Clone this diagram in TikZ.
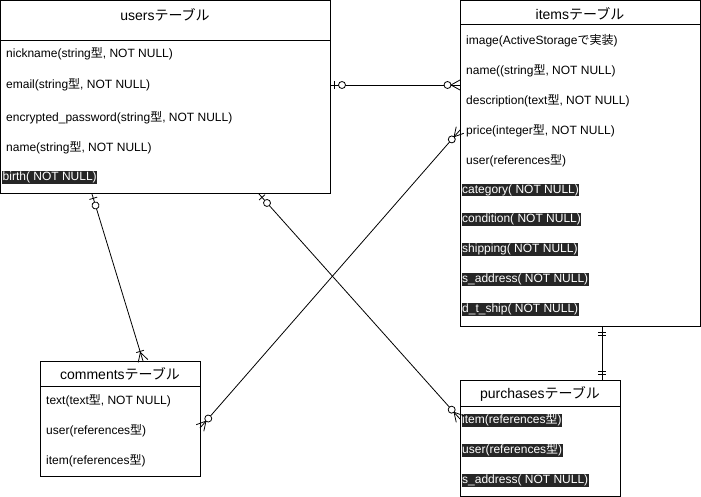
\documentclass[tikz,border=0pt]{standalone}
\usepackage{fontspec}
\setmainfont{Liberation Sans}
\newfontfamily\jpfont{Noto Sans CJK JP}
\usetikzlibrary{decorations.markings}
\newcommand{\jp}[1]{{\jpfont #1}}
\newcommand{\erzeroone}{\draw (-4.5pt,-4pt) -- (-4.5pt,4pt); \draw[fill=white] (-12pt,0) circle (3.5pt);}
\newcommand{\erzeromany}{\draw (0,-5pt) -- (-9pt,0) -- (0,5pt); \draw[fill=white] (-12.5pt,0) circle (3.5pt);}
\newcommand{\eronemany}{\draw (0,-5pt) -- (-9pt,0) -- (0,5pt); \draw (-10pt,-4pt) -- (-10pt,4pt);}
\newcommand{\eronlyone}{\draw (-6pt,-4pt) -- (-6pt,4pt); \draw (-9pt,-4pt) -- (-9pt,4pt);}
\tikzset{
  tbl/.style={draw, line width=1pt, anchor=north west, inner sep=0pt, outer sep=0pt},
  tbltitle/.style={inner sep=0pt, font=\fontsize{14}{16}\selectfont},
  rowtext/.style={anchor=west, inner sep=0pt, yshift=-1pt, font=\fontsize{12}{14}\selectfont},
  hlrow/.style={anchor=west, inner sep=0pt, font=\fontsize{12}{14}\selectfont, fill=black!85, text=white, inner xsep=0.5pt, text height=9.5pt, text depth=3pt},
  tipstart/.style={postaction={decorate,decoration={markings,mark=at position 0 with {\begin{scope}[xscale=-1]#1\end{scope}}}}},
  tipend/.style={postaction={decorate,decoration={markings,mark=at position 1 with {#1}}}},
  rel/.style={line width=0.8pt}
}
\begin{document}
\begin{tikzpicture}[x=1pt, y=-1pt]
    \useasboundingbox (0,0) rectangle (701,497);
    % users
    \node[tbl, minimum width=329.5pt, minimum height=193.5pt] (users) at (0.5,0.5) {};
    \draw[line width=1pt] (0.5,41) -- (330,41);
    \node[tbltitle] (usersttl) at (165,15) {users\jp{テーブル}};
    \node[rowtext] (unick) at (6,53) {nickname(string\jp{型}, NOT NULL)};
    \node[rowtext] (uemail) at (6,84) {email(string\jp{型}, NOT NULL)};
    \node[rowtext] (upass) at (6,117) {encrypted\_password(string\jp{型}, NOT NULL)};
    \node[rowtext] (uname) at (6,147) {name(string\jp{型}, NOT NULL)};
    \node[hlrow] (ubirth) at (2,177.5) {birth( NOT NULL)};
    % items
    \node[tbl, minimum width=240pt, minimum height=325.5pt] (items) at (460,0.5) {};
    \draw[line width=1pt] (460,25) -- (700,25);
    \node[tbltitle] (itemsttl) at (580,14) {items\jp{テーブル}};
    \node[rowtext] (iimage) at (466,40) {image(ActiveStorage\jp{で実装})};
    \node[rowtext] (iname) at (466,70) {name((string\jp{型}, NOT NULL)};
    \node[rowtext] (idesc) at (466,100) {description(text\jp{型}, NOT NULL)};
    \node[rowtext] (iprice) at (466,130) {price(integer\jp{型}, NOT NULL)};
    \node[rowtext] (iuser) at (466,160) {user(references\jp{型})};
    \node[hlrow] (icat) at (461.5,190) {category( NOT NULL)};
    \node[hlrow] (icond) at (461.5,219.5) {condition( NOT NULL)};
    \node[hlrow] (iship) at (461.5,249.5) {shipping( NOT NULL)};
    \node[hlrow] (iaddr) at (461.5,279.5) {s\_address( NOT NULL)};
    \node[hlrow] (iday) at (461.5,309.5) {d\_t\_ship( NOT NULL)};
    % comments
    \node[tbl, minimum width=160pt, minimum height=115pt] (comments) at (40,361) {};
    \draw[line width=1pt] (40,386) -- (200,386);
    \node[tbltitle] (commentsttl) at (120,374) {comments\jp{テーブル}};
    \node[rowtext] (ctext) at (46,400) {text(text\jp{型}, NOT NULL)};
    \node[rowtext] (cuser) at (46,430) {user(references\jp{型})};
    \node[rowtext] (citem) at (46,459.5) {item(references\jp{型})};
    % purchases
    \node[tbl, minimum width=159.5pt, minimum height=116pt] (purchases) at (460.5,380) {};
    \draw[line width=1pt] (460.5,406) -- (620,406);
    \node[tbltitle] (purchasesttl) at (540,394) {purchases\jp{テーブル}};
    \node[hlrow] (pitem) at (461.5,420.5) {item(references\jp{型})};
    \node[hlrow] (puser) at (461.5,450.5) {user(references\jp{型})};
    \node[hlrow] (paddr) at (461.5,480.5) {s\_address( NOT NULL)};
    %
    \coordinate (u1) at (330,85);
    \coordinate (u2) at (92,194);
    \coordinate (u3) at (259,194);
    \coordinate (i1) at (460,85);
    \coordinate (i2) at (460,130);
    \coordinate (i3) at (602,326);
    \coordinate (c1) at (143,361);
    \coordinate (c2) at (200,428);
    \coordinate (p1) at (460,419);
    \coordinate (p2) at (602,380);
    \draw[rel, tipstart=\erzeroone, tipend=\erzeromany] (u1) -- (i1);
    \draw[rel, tipstart=\erzeroone, tipend=\eronemany] (u2) -- (c1);
    \draw[rel, tipstart=\erzeroone, tipend=\erzeromany] (u3) -- (p1);
    \draw[rel, tipstart=\erzeromany, tipend=\erzeromany] (i2) -- (c2);
    \draw[rel, tipstart=\eronlyone, tipend=\eronlyone] (i3) -- (p2);
\end{tikzpicture}
\end{document}
